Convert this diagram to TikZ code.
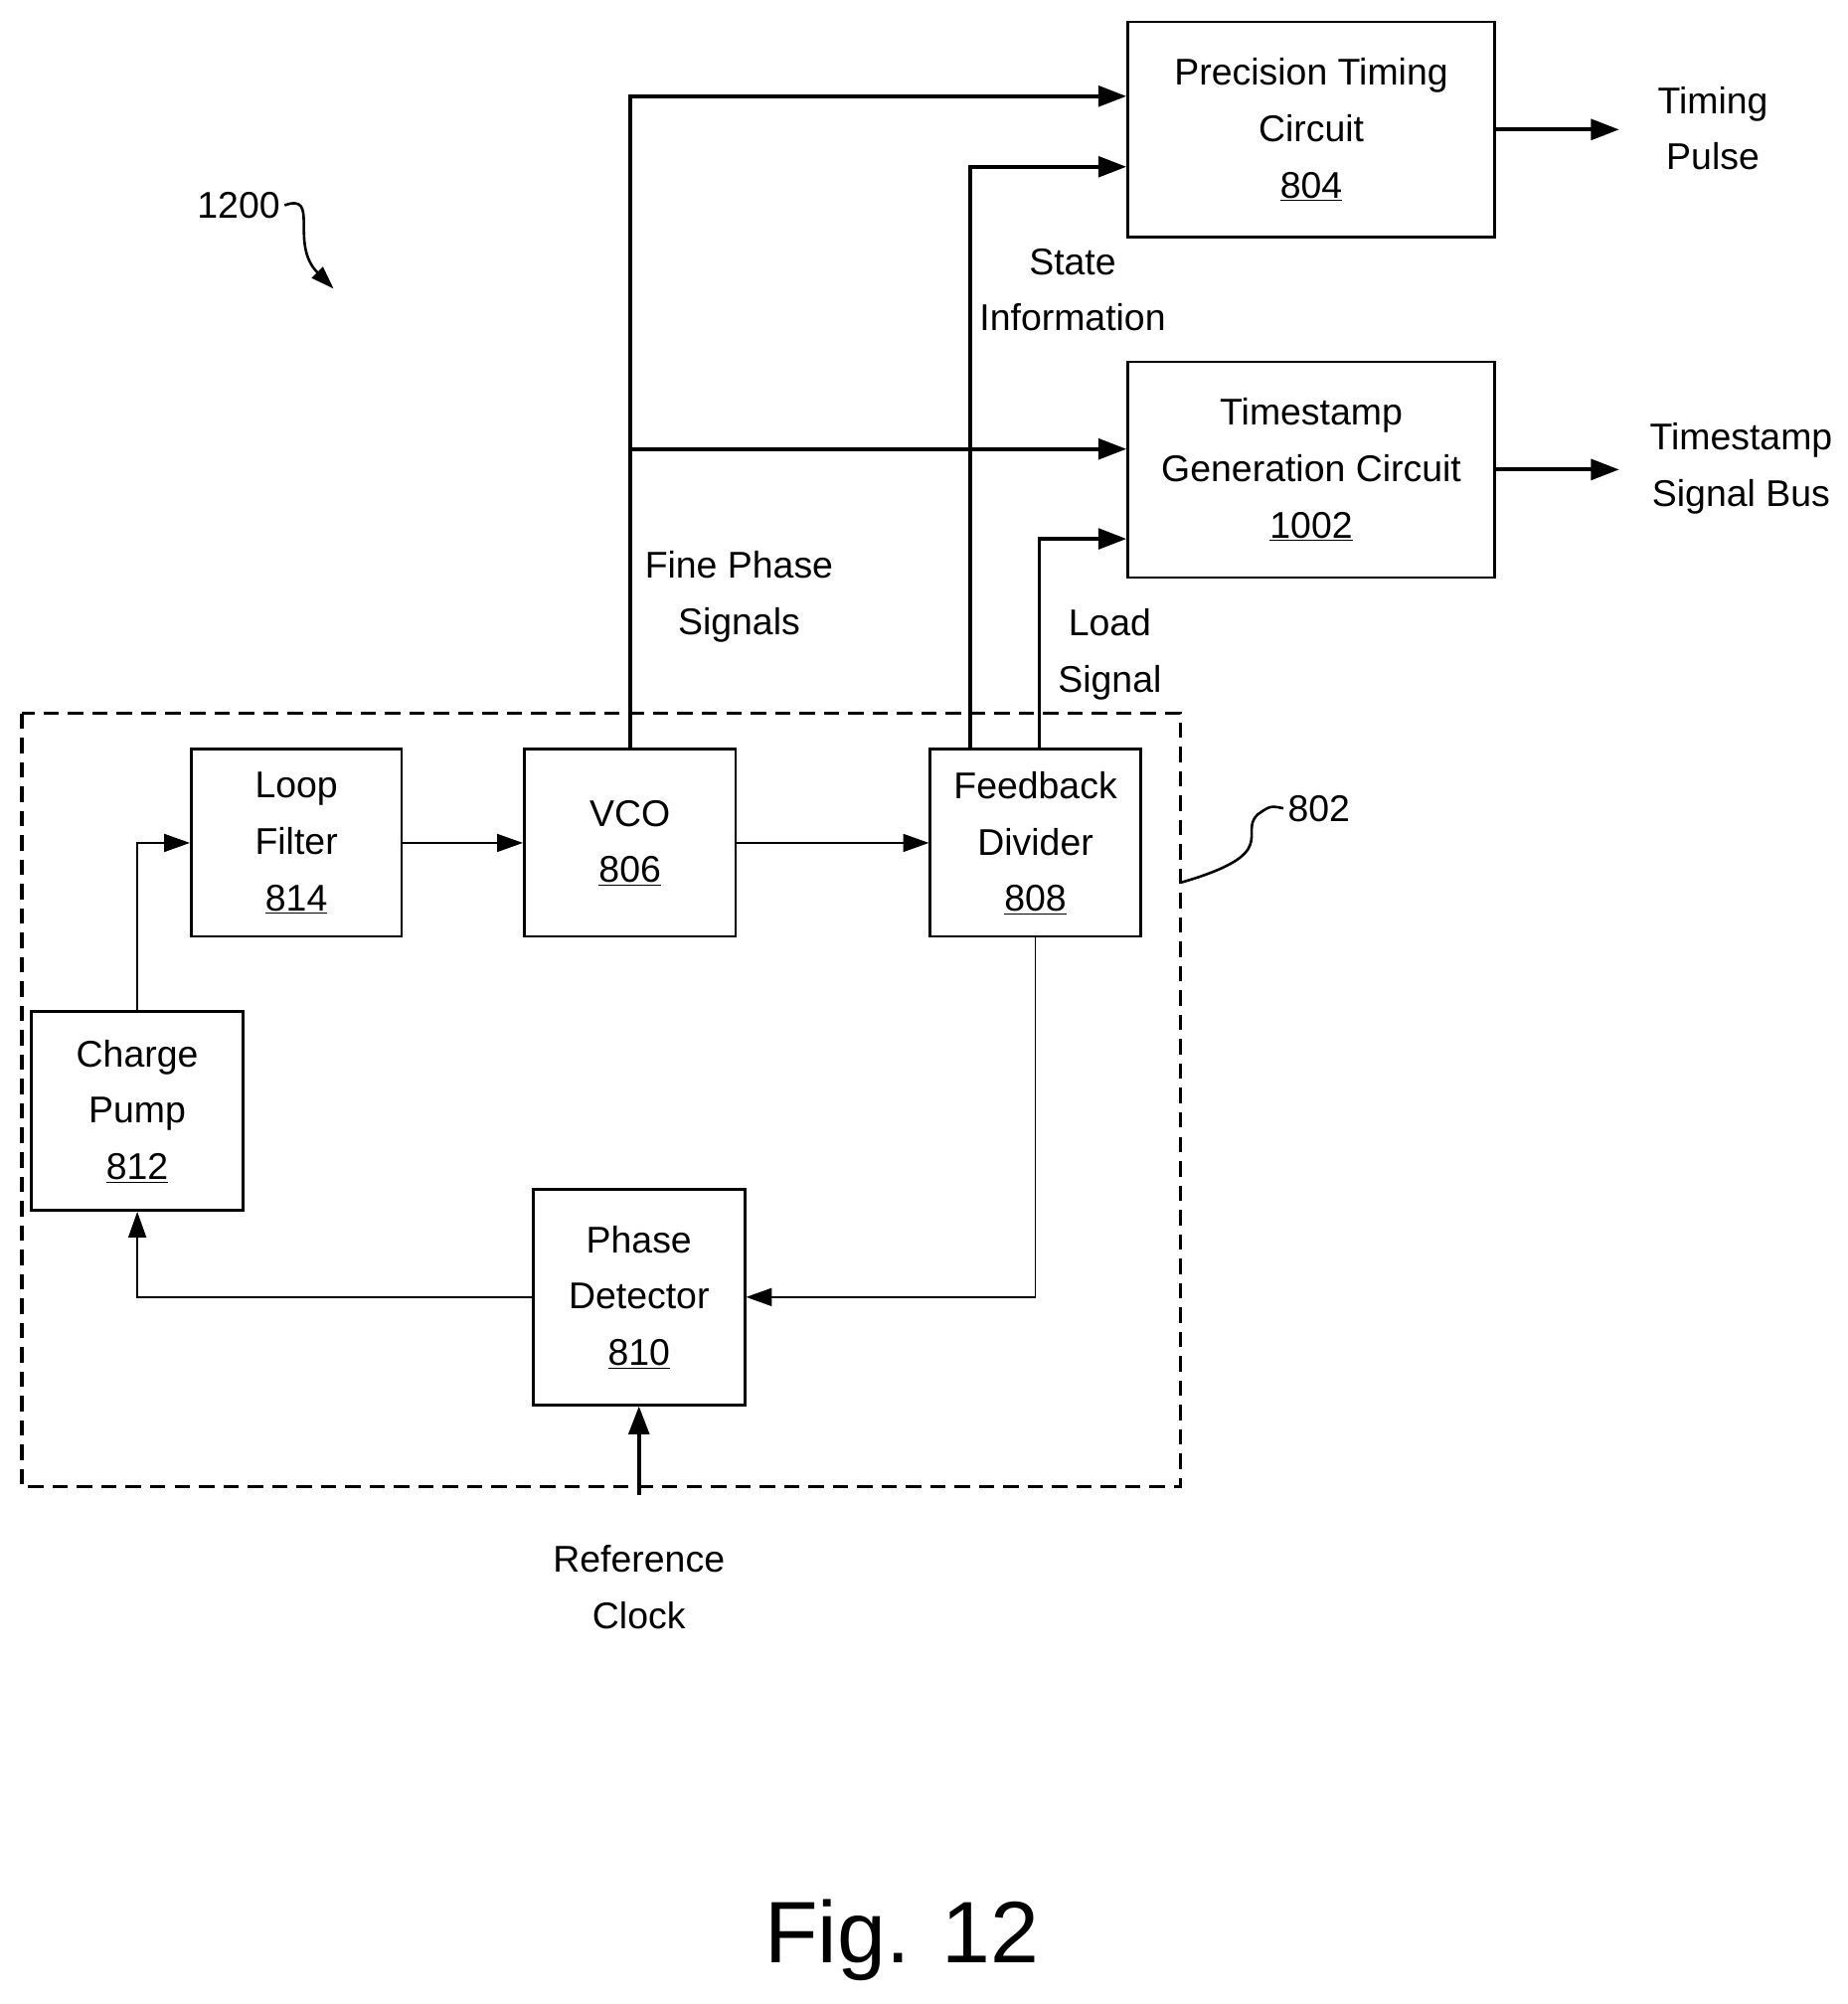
\documentclass[tikz,border=0pt]{standalone}
\usepackage{fontspec}
\setmainfont{Liberation Sans}
\usetikzlibrary{arrows.meta}

\begin{document}
\begin{tikzpicture}[x=1pt,y=-1pt,
    blk/.style={draw, line width=2pt, align=center, inner sep=0pt, font=\fontsize{29}{44}\selectfont},
    lbl/.style={align=center, font=\fontsize{29}{44}\selectfont},
    thin/.style={line width=1pt, -{Triangle[length=20pt,width=14pt]}},
    thick/.style={line width=3pt, -{Triangle[length=22pt,width=16pt]}}]
    \useasboundingbox (0,0) rectangle (1440,1562);

    % Dashed PLL boundary
    \draw[line width=2.5pt, dash pattern=on 12pt off 7pt] (17,556) rectangle (920,1159);

    % Blocks
    \node[blk, minimum width=286pt, minimum height=168pt] (ptc) at (1022,101) {Precision Timing\\Circuit\\\underline{804}};
    \node[blk, minimum width=286pt, minimum height=168pt] (tgc) at (1022,366) {Timestamp\\Generation Circuit\\\underline{1002}};
    \node[blk, minimum width=164pt, minimum height=146pt] (lf) at (231,657) {Loop\\Filter\\\underline{814}};
    \node[blk, minimum width=165pt, minimum height=146pt] (vco) at (491,657) {VCO\\\underline{806}};
    \node[blk, minimum width=164pt, minimum height=146pt] (fd) at (807,657) {Feedback\\Divider\\\underline{808}};
    \node[blk, minimum width=165pt, minimum height=155pt] (cp) at (107,866) {Charge\\Pump\\\underline{812}};
    \node[blk, minimum width=165pt, minimum height=168pt] (pd) at (498,1011) {Phase\\Detector\\\underline{810}};

    % Labels
    \node[lbl] (tp) at (1335,100) {Timing\\Pulse};
    \node[lbl] (tsb) at (1357,365) {Timestamp\\Signal Bus};
    \node[lbl] (si) at (836,226) {State\\Information};
    \node[lbl] (fps) at (576,465) {Fine Phase\\Signals};
    \node[lbl] (ls) at (865,510) {Load\\Signal};
    \node[lbl] (rc) at (498,1237) {Reference\\Clock};
    \node[lbl] (n1200) at (186,160) {1200};
    \node[lbl] (n802) at (1028,630) {802};
    \node[font=\fontsize{68}{80}\selectfont] (fig) at (703,1512) {Fig. 12};

    % Outputs
    \draw[thick] (vco.north) |- (ptc.west |- 0,75);
    \draw[thick] (491,350) -- (tgc.west |- 0,350);
    \draw[thick] (fd.north -| 756,0) |- (ptc.west |- 0,130);
    \draw[thick] (fd.north -| 810,0) |- (tgc.west |- 0,420);
    \draw[thick] (ptc.east) -- (ptc.east -| 1262,0);
    \draw[thick] (tgc.east) -- (tgc.east -| 1262,0);
    \draw[thick] (rc.north |- 0,1165) -- (pd.south);

    % Loop
    \draw[thin] (lf) -- (vco);
    \draw[thin] (vco) -- (fd);
    \draw[thin] (fd.south) |- (pd.east);
    \draw[thin] (pd.west) -| (cp.south);
    \draw[thin] (cp.north) |- (lf.west);

    % Reference squiggles
    \draw[line width=2pt, -{Triangle[length=18pt,width=12pt]}] (n1200.east) .. controls (250,150) and (225,190) .. (260,225);
    \draw[line width=2pt] (920,688) .. controls (1000,665) and (965,650) .. (980,635) .. controls (990,628) .. (n802.west);
\end{tikzpicture}
\end{document}
